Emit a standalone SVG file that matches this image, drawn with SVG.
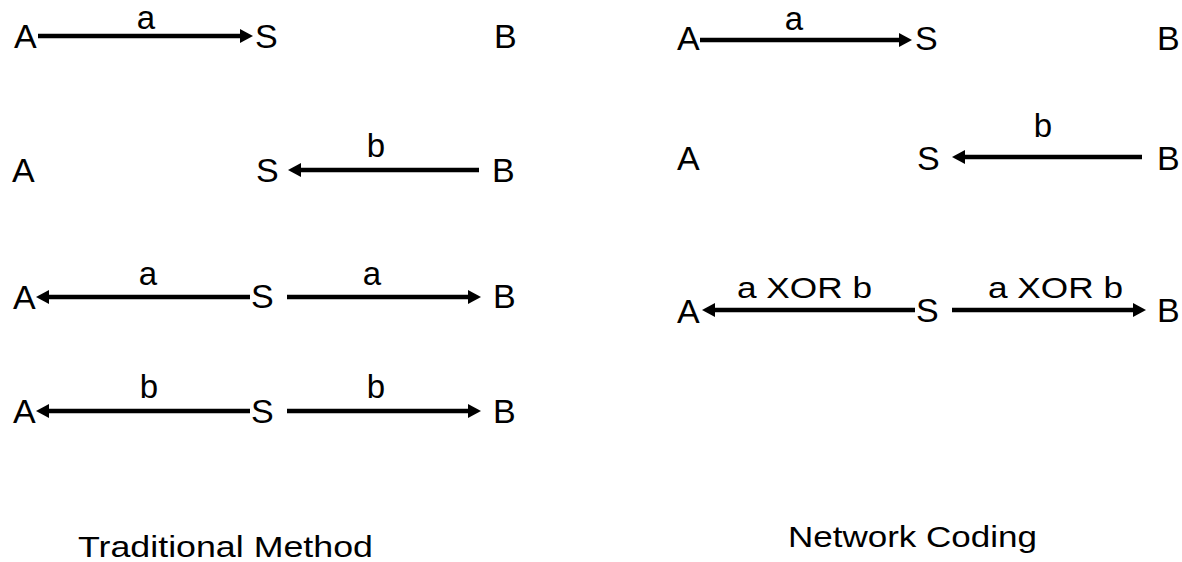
<svg xmlns="http://www.w3.org/2000/svg" width="1182" height="562" viewBox="0 0 1182 562">
<style>
text{font-family:"Liberation Sans",Arial,sans-serif;fill:#000}
.n{font-size:34px}
.l{font-size:33px;text-anchor:middle}
.x{font-size:30px}
.t{font-size:29px}
.c{stroke:#000;stroke-width:4.5;fill:none;marker-end:url(#ah)}
</style>
<defs>
<marker id="ah" markerUnits="userSpaceOnUse" markerWidth="14" markerHeight="14" refX="3" refY="7" orient="auto" overflow="visible">
<path d="M0,0 L13,7 L0,14 z" fill="#000"/>
</marker>
</defs>
<rect width="1182" height="562" fill="#fff"/>
<g id="connectors">
<line class="c" x1="38" y1="36" x2="243" y2="36"/>
<line class="c" x1="479" y1="170" x2="298" y2="170"/>
<line class="c" x1="250" y1="297" x2="46" y2="297"/>
<line class="c" x1="287" y1="297" x2="471" y2="297"/>
<line class="c" x1="250" y1="411" x2="46" y2="411"/>
<line class="c" x1="287" y1="411" x2="471" y2="411"/>
<line class="c" x1="700" y1="40" x2="902" y2="40"/>
<line class="c" x1="1142" y1="157" x2="962" y2="157"/>
<line class="c" x1="915" y1="310" x2="712" y2="310"/>
<line class="c" x1="952" y1="310" x2="1136" y2="310"/>
</g>
<g id="labels">
<text class="l" x="146" y="29">a</text>
<text class="l" x="376" y="157">b</text>
<text class="l" x="148" y="285">a</text>
<text class="l" x="372" y="285">a</text>
<text class="l" x="149" y="398">b</text>
<text class="l" x="376" y="398">b</text>
<text class="l" x="794" y="30">a</text>
<text class="l" x="1043" y="137">b</text>
<text class="x" x="737" y="298" textLength="135" lengthAdjust="spacingAndGlyphs">a XOR b</text>
<text class="x" x="988" y="298" textLength="135" lengthAdjust="spacingAndGlyphs">a XOR b</text>
</g>
<g id="trad-r1-A"><text class="n" x="14" y="48">A</text></g>
<g id="trad-r1-S"><text class="n" x="255" y="48">S</text></g>
<g id="trad-r1-B"><text class="n" x="494" y="48">B</text></g>
<g id="trad-r2-A"><text class="n" x="12" y="182">A</text></g>
<g id="trad-r2-S"><text class="n" x="256" y="182">S</text></g>
<g id="trad-r2-B"><text class="n" x="492" y="182">B</text></g>
<g id="trad-r3-A"><text class="n" x="13" y="309">A</text></g>
<g id="trad-r3-S"><text class="n" x="251" y="308">S</text></g>
<g id="trad-r3-B"><text class="n" x="493" y="308">B</text></g>
<g id="trad-r4-A"><text class="n" x="13" y="423">A</text></g>
<g id="trad-r4-S"><text class="n" x="251" y="423">S</text></g>
<g id="trad-r4-B"><text class="n" x="493" y="423">B</text></g>
<g id="nc-r1-A"><text class="n" x="677" y="50">A</text></g>
<g id="nc-r1-S"><text class="n" x="915" y="50">S</text></g>
<g id="nc-r1-B"><text class="n" x="1157" y="50">B</text></g>
<g id="nc-r2-A"><text class="n" x="677" y="170">A</text></g>
<g id="nc-r2-S"><text class="n" x="917" y="170">S</text></g>
<g id="nc-r2-B"><text class="n" x="1157" y="170">B</text></g>
<g id="nc-r3-A"><text class="n" x="677" y="323">A</text></g>
<g id="nc-r3-S"><text class="n" x="916" y="322">S</text></g>
<g id="nc-r3-B"><text class="n" x="1157" y="322">B</text></g>
<g id="titles">
<text class="t" x="78" y="557" textLength="295" lengthAdjust="spacingAndGlyphs">Traditional Method</text>
<text class="t" x="788" y="547" textLength="249" lengthAdjust="spacingAndGlyphs">Network Coding</text>
</g>
</svg>
